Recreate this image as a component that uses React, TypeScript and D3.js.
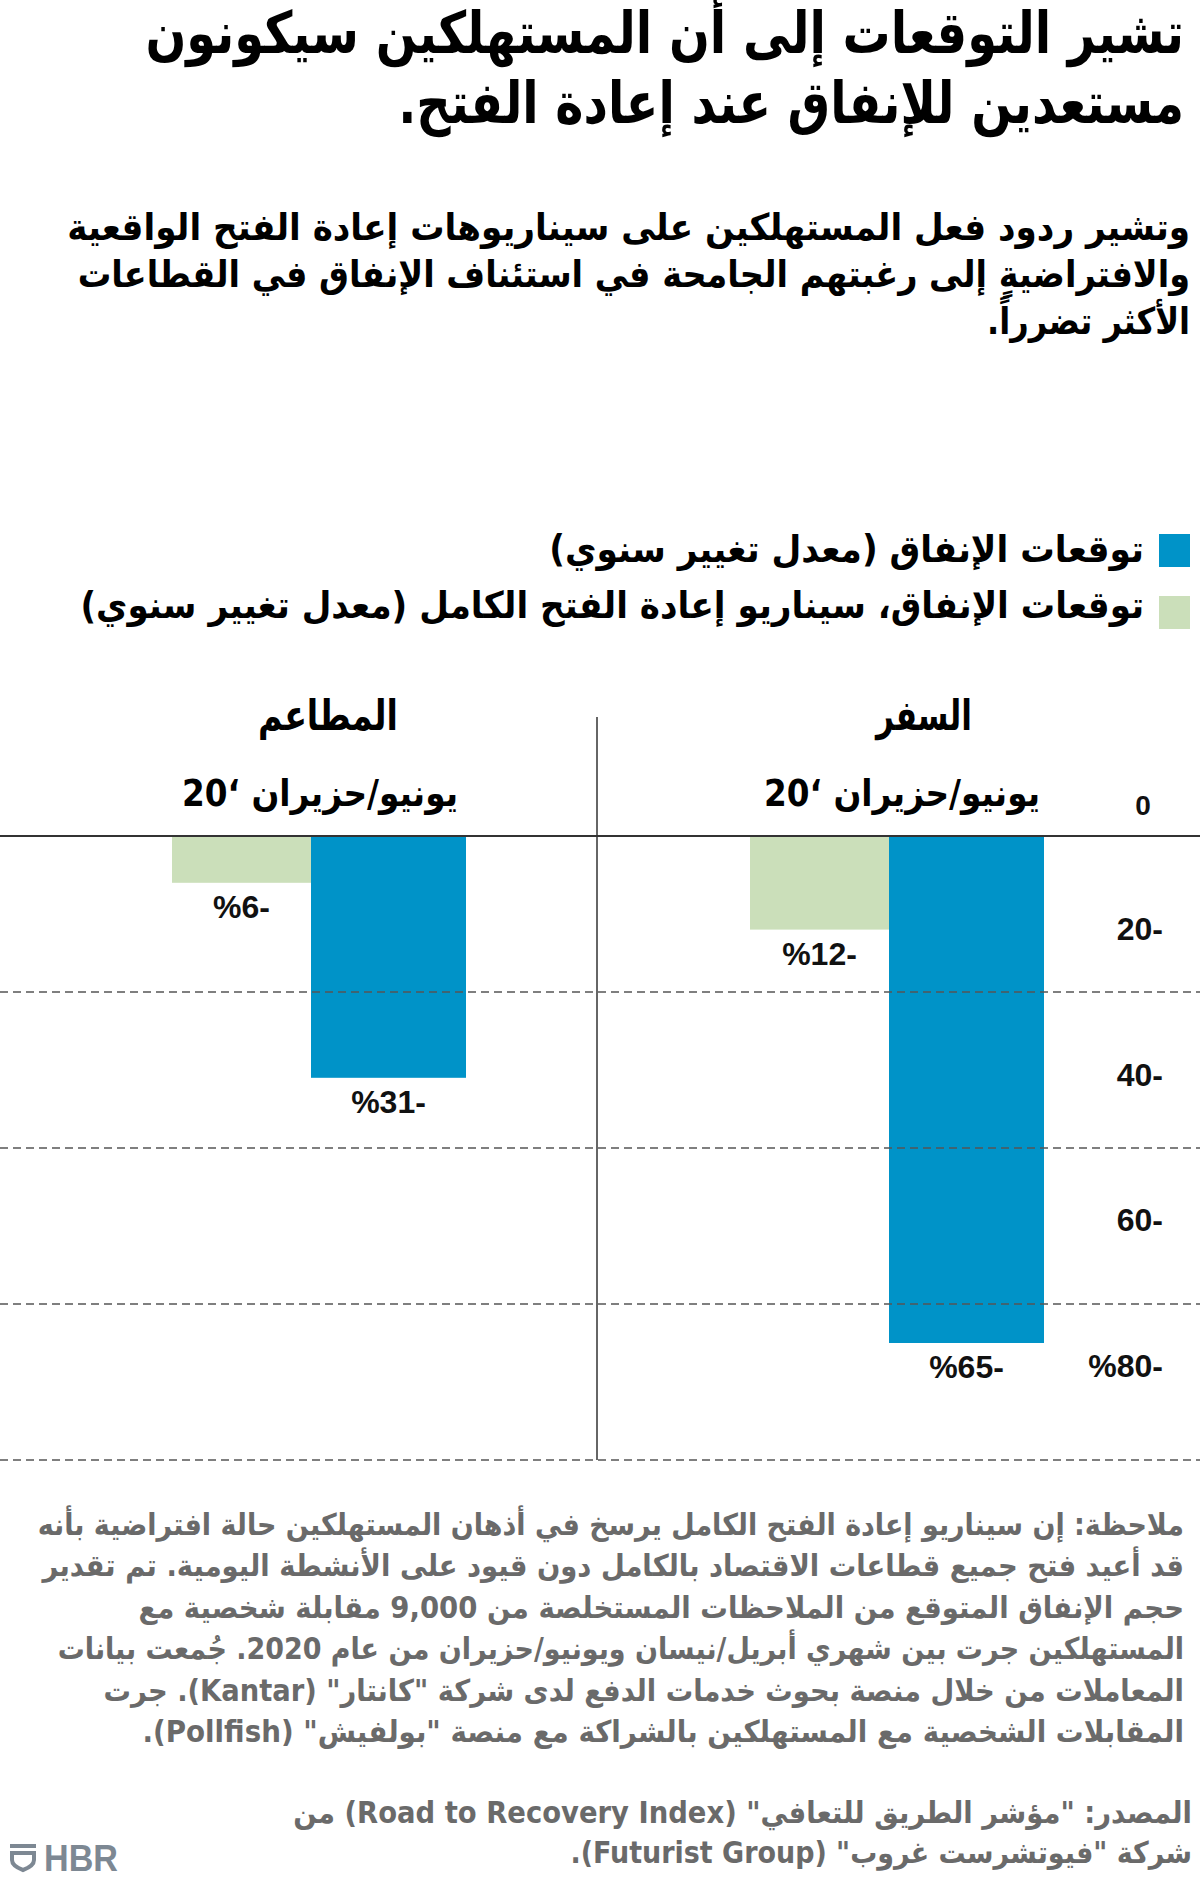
import React from 'react';
import * as d3 from 'd3';

// Chart data
const categories = ['المطاعم', 'السفر'];
const periodLabel = 'يونيو/حزيران ‘20';
const spendingForecast = [-31, -65]; // blue
const fullReopenForecast = [-6, -12]; // green
const yTicks = [0, -20, -40, -60, -80];
const gridTicks = [-20, -40, -60, -80];

const legendLabels = [
  'توقعات الإنفاق (معدل تغيير سنوي)',
  'توقعات الإنفاق، سيناريو إعادة الفتح الكامل (معدل تغيير سنوي)',
];

const titleLines = [
  'تشير التوقعات إلى أن المستهلكين سيكونون',
  'مستعدين للإنفاق عند إعادة الفتح.',
];

const subtitleLines = [
  'وتشير ردود فعل المستهلكين على سيناريوهات إعادة الفتح الواقعية',
  'والافتراضيةٍ إلى رغبتهم الجامحة في استئناف الإنفاق في القطاعات',
  'الأكثر تضرراً.',
];

const noteLines = [
  'ملاحظة: إن سيناريو إعادة الفتح الكامل يرسخ في أذهان المستهلكين حالة افتراضية بأنه',
  'قد أعيد فتح جميع قطاعات الاقتصاد بالكامل دون قيود على الأنشطة اليومية. تم تقدير',
  'حجم الإنفاق المتوقع من الملاحظات المستخلصة من 9,000 مقابلة شخصية مع',
  'المستهلكين جرت بين شهري أبريل/نيسان ويونيو/حزيران من عام 2020. جُمعت بيانات',
  'المعاملات من خلال منصة بحوث خدمات الدفع لدى شركة "كانتار" (Kantar). جرت',
  'المقابلات الشخصية مع المستهلكين بالشراكة مع منصة "بولفيش" (Pollfish).',
];

const sourceLines = [
  'المصدر: "مؤشر الطريق للتعافي" (Road to Recovery Index) من',
  'شركة "فيوتشرست غروب" (Futurist Group).',
];

const BLUE = '#0093c8';
const GREEN = '#cbdfba';
const ARABIC = '"DejaVu Sans", sans-serif';
const LATIN = '"Liberation Sans", Arial, sans-serif';

// measured line widths of the text blocks (layout only)
const titleWidths = [1039, 786];
const subtitleWidths = [1123, 1113, 203];
const legendWidths = [595, 1064];
const noteWidths = [1147, 1142, 1046, 1127, 1081, 1042];
const sourceWidths = [899, 622];

const W = 1200;
const H = 1880;

const fmtTick = (v: number) => (v === 0 ? '0' : v === -80 ? `%${-v}-` : `${-v}-`);
const fmtValue = (v: number) => `%${-v}-`;

// measure natural width so a line can be squeezed to the reference width
const measureCtx = typeof document !== 'undefined' ? document.createElement('canvas').getContext('2d') : null;
const naturalWidth = (text: string, size: number, family: string) => {
  if (!measureCtx) return 1;
  measureCtx.font = `bold ${size}px ${family}`;
  (measureCtx as any).direction = 'rtl';
  return measureCtx.measureText(text).width || 1;
};

const RtlLine = ({ x, y, text, size, width, fill = '#000', anchor = 'start' }: any) => {
  const sx = width ? width / naturalWidth(text, size, ARABIC) : 1;
  return (
    <g transform={`translate(${x},${y}) scale(${sx},1)`}>
      <text
        x={0}
        y={0}
        direction="rtl"
        textAnchor={anchor}
        fontFamily={ARABIC}
        fontWeight="bold"
        fontSize={size}
        fill={fill}
      >
        {text}
      </text>
    </g>
  );
};

const App = () => {
  const y = d3.scaleLinear().domain([0, -80]).range([836, 1460]);
  const xPanel = d3.scaleBand<string>().domain(categories).range([0, 1156]);
  // positions of each series inside a panel
  const series = [
    { key: 'full', color: GREEN, values: fullReopenForecast, x0: 172, w: 139 },
    { key: 'base', color: BLUE, values: spendingForecast, x0: 311, w: 155 },
  ];
  // tick labels sit above their gridline, by a growing gap
  const labelGap = d3.scaleLinear().domain([0, -20, -80]).range([21, 52, 83]);
  const tickLabelY = (v: number) => y(v) - labelGap(v);
  const hbrScale = 74 / naturalWidth('HBR', 37, LATIN);

  return (
    <div style={{ position: 'absolute', left: 0, top: 0 }}>
      <svg width={W} height={H} style={{ display: 'block', background: '#fff' }}>
        {titleLines.map((t, i) => (
          <RtlLine key={t} x={1184} y={53 + i * 70} text={t} size={58} width={titleWidths[i]} />
        ))}
        {subtitleLines.map((t, i) => (
          <RtlLine key={t} x={1190} y={240 + i * 47} text={t} size={37} width={subtitleWidths[i]} />
        ))}

        {/* legend */}
        {[BLUE, GREEN].map((c, i) => (
          <g key={c}>
            <rect x={1159} y={534 + i * 62} width={31} height={33} fill={c} />
            <RtlLine x={1144} y={562 + i * 56} text={legendLabels[i]} size={37} width={legendWidths[i]} />
          </g>
        ))}

        {/* bars */}
        {series.map((s) =>
          categories.map((c, i) => (
            <rect
              key={s.key + c}
              x={(xPanel(c) as number) + s.x0}
              y={y(0)}
              width={s.w}
              height={y(s.values[i]) - y(0)}
              fill={s.color}
            />
          ))
        )}

        {/* gridlines over bars */}
        {gridTicks.map((v) => (
          <line
            key={v}
            x1={0}
            x2={W}
            y1={y(v)}
            y2={y(v)}
            stroke="#555"
            strokeWidth={1.5}
            strokeDasharray="8 5"
          />
        ))}
        <line x1={0} x2={W} y1={y(0)} y2={y(0)} stroke="#333" strokeWidth={2} />
        <line x1={597} x2={597} y1={717} y2={y(-80)} stroke="#333" strokeWidth={1.5} />

        {/* y tick labels */}
        {yTicks.map((v) => (
          <text
            key={v}
            x={v === 0 ? 1143 : 1163}
            y={tickLabelY(v)}
            textAnchor={v === 0 ? 'middle' : 'end'}
            fontFamily={LATIN}
            fontWeight="bold"
            fontSize={v === 0 ? 28 : 32}
            fill="#111"
          >
            {fmtTick(v)}
          </text>
        ))}

        {/* panel titles */}
        {categories.map((c) => (
          <g key={c}>
            <RtlLine
              x={(xPanel(c) as number) + 328 + (c === 'السفر' ? 18 : 0)}
              y={730}
              text={c}
              size={42}
              anchor="middle"
              width={c === 'السفر' ? 96 : 140}
            />
            <RtlLine
              x={(xPanel(c) as number) + 320 + (c === 'السفر' ? 4 : 0)}
              y={806}
              text={periodLabel}
              size={37}
              anchor="middle"
              width={276}
            />
          </g>
        ))}

        {/* value labels */}
        {series.map((s) =>
          categories.map((c, i) => (
            <text
              key={'l' + s.key + c}
              x={(xPanel(c) as number) + s.x0 + s.w / 2}
              y={y(s.values[i]) + 35}
              textAnchor="middle"
              fontFamily={LATIN}
              fontWeight="bold"
              fontSize={32}
              fill="#111"
            >
              {fmtValue(s.values[i])}
            </text>
          ))
        )}

        {/* notes */}
        {noteLines.map((t, i) => (
          <RtlLine key={t} x={1184} y={1535 + i * 41.4} text={t} size={30} width={noteWidths[i]} fill="#6a6a6a" />
        ))}
        {sourceLines.map((t, i) => (
          <RtlLine key={t} x={1192} y={1823 + i * 40} text={t} size={30} width={sourceWidths[i]} fill="#6a6a6a" />
        ))}

        {/* HBR logo */}
        <g fill="none" stroke="#7d8893" strokeWidth={4}>
          <line x1={10} x2={36} y1={1846} y2={1846} />
          <path d="M12,1853 L34,1853 L34,1860 Q34,1866 23,1870 Q12,1866 12,1860 Z" />
        </g>
        <g transform={`translate(44,1871) scale(${hbrScale},1)`}>
          <text x={0} y={0} fontFamily={LATIN} fontWeight="bold" fontSize={37} fill="#7d8893">
            HBR
          </text>
        </g>
      </svg>
    </div>
  );
};

export default App;
